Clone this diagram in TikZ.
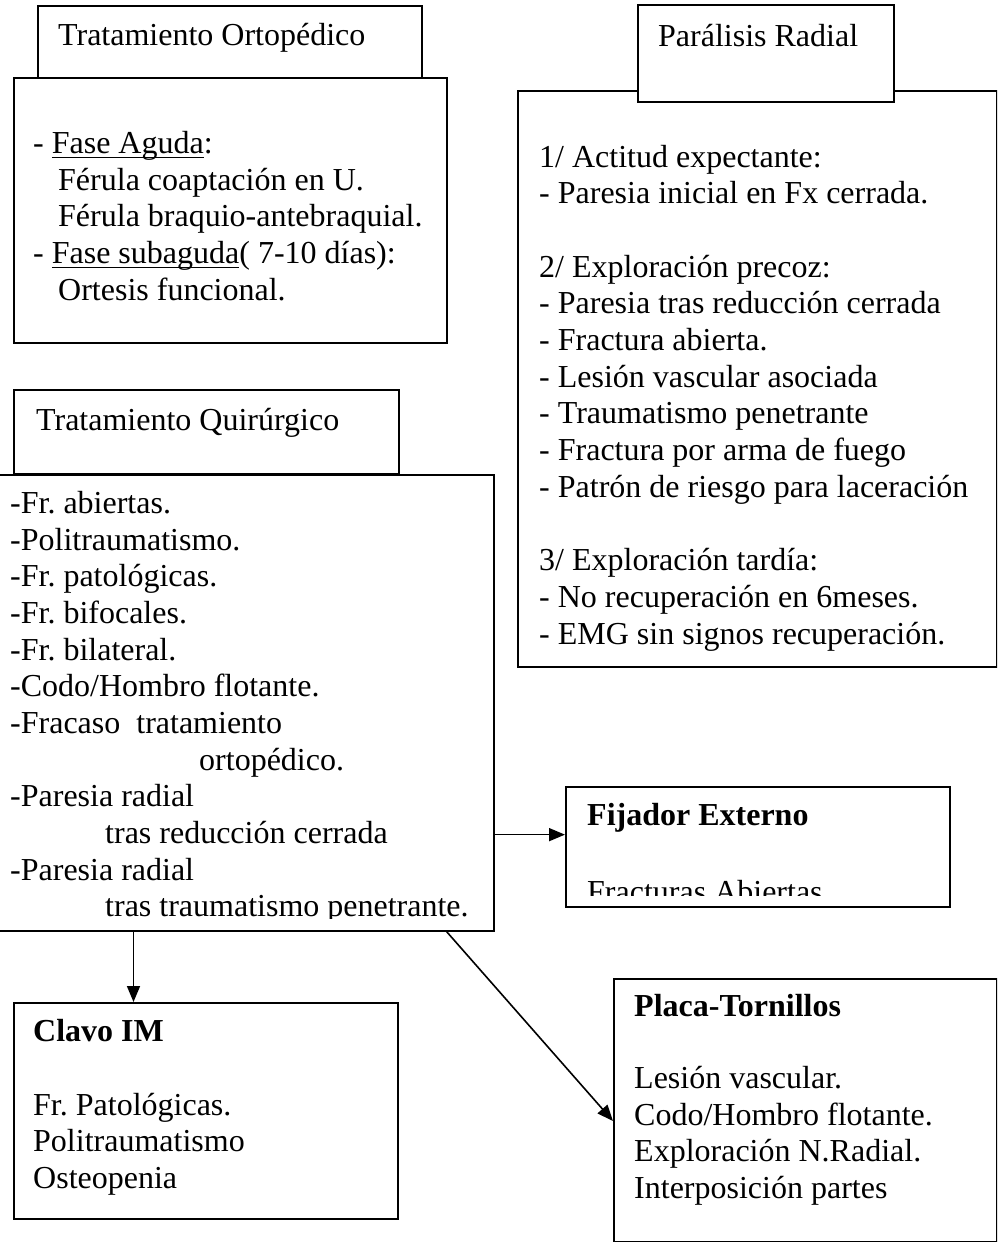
\documentclass[tikz,border=0pt]{standalone}
\usepackage{fontspec}
\setmainfont{Liberation Serif}
\usetikzlibrary{arrows.meta,calc}
% underline drawn just below the baseline, crossing descenders
\newcommand\ulin[1]{\setbox0=\hbox{#1}\rlap{\rule[-5pt]{\wd0}{1.6pt}}\box0}
\frenchspacing

\begin{document}
\begin{tikzpicture}[x=1pt,y=-1pt,
  box/.style={draw=black, line width=1.6pt, fill=white, rectangle, inner sep=0pt, anchor=north west},
  txt/.style={anchor=base west, inner sep=0pt, font=\fontsize{32}{36.7}\selectfont},
  hd/.style={anchor=base west, inner sep=0pt, font=\fontsize{32}{36.7}\selectfont\bfseries},
  arr/.style={line width=1.6pt, -{Triangle[length=16pt,width=13pt]}}]

\useasboundingbox (0,0) rectangle (997,1242);
\clip (0,0) rectangle (997,1242);
\fill[white] (0,0) rectangle (997,1242);

% ---- Tratamiento ortopédico ----
\node[box, minimum width=433pt, minimum height=265pt] (ortB) at (13,77) {};
\node[box, minimum width=384pt, minimum height=72pt] (ortH) at (37,5) {};
\node[txt] (ortT) at (58,45.5) {Tratamiento Ortopédico};
\node[txt] (ort1) at (33,153.3) {- \ulin{Fase Aguda}:};
\node[txt] (ort2) at (58,190) {Férula coaptación en U.};
\node[txt] (ort3) at (58,226.7) {Férula braquio-antebraquial.};
\node[txt] (ort4) at (33,263.3) {- \ulin{Fase subaguda}( 7-10 días):};
\node[txt] (ort5) at (58,300) {Ortesis funcional.};

% ---- Parálisis radial ----
\node[box, minimum width=479pt, minimum height=576pt] (parB) at (517,90) {};
\node[box, minimum width=256pt, minimum height=97pt] (parH) at (637,4) {};
\node[txt] (parT) at (658,46) {Parálisis Radial};
\node[txt] (par1) at (539,167) {1/ Actitud expectante:};
\node[txt] (par2) at (539,203.7) {- Paresia inicial en Fx cerrada.};
\node[txt] (par3) at (539,277.1) {2/ Exploración precoz:};
\node[txt] (par4) at (539,313.8) {- Paresia tras reducción cerrada};
\node[txt] (par5) at (539,350.5) {- Fractura abierta.};
\node[txt] (par6) at (539,387.2) {- Lesión vascular asociada};
\node[txt] (par7) at (539,423.9) {- Traumatismo penetrante};
\node[txt] (par8) at (539,460.6) {- Fractura por arma de fuego};
\node[txt] (par9) at (539,497.3) {- Patrón de riesgo para laceración};
\node[txt] (par10) at (539,570.7) {3/ Exploración tardía:};
\node[txt] (par11) at (539,607.4) {- No recuperación en 6meses.};
\node[txt] (par12) at (539,644.1) {- EMG sin signos recuperación.};

% ---- Tratamiento quirúrgico ----
\node[box, minimum width=385pt, minimum height=84pt] (quiH) at (13,389) {};
\node[box, minimum width=503pt, minimum height=456pt] (quiB) at (-10,474) {};
\node[txt] (quiT) at (36,430.7) {Tratamiento Quirúrgico};
\begin{scope}
  \clip (0,470) rectangle (493,918);
  \node[txt] (qui1) at (10,513.3) {-Fr. abiertas.};
  \node[txt] (qui2) at (10,550) {-Politraumatismo.};
  \node[txt] (qui3) at (10,586.7) {-Fr. patológicas.};
  \node[txt] (qui4) at (10,623.3) {-Fr. bifocales.};
  \node[txt] (qui5) at (10,660) {-Fr. bilateral.};
  \node[txt] (qui6) at (10,696.7) {-Codo/Hombro flotante.};
  \node[txt] (qui7) at (10,733.3) {-Fracaso\ \ tratamiento};
  \node[txt] (qui8) at (199,770) {ortopédico.};
  \node[txt] (qui9) at (10,806.7) {-Paresia radial};
  \node[txt] (qui10) at (105,843.3) {tras reducción cerrada};
  \node[txt] (qui11) at (10,880) {-Paresia radial};
  \node[txt] (qui12) at (105,916.7) {tras traumatismo penetrante.};
\end{scope}

% ---- Fijador externo ----
\node[box, minimum width=384pt, minimum height=120pt] (fij) at (565,786) {};
\node[hd] (fijT) at (587,825.5) {Fijador Externo};
\begin{scope}
  \clip (565,786) rectangle (949,895);
  \node[txt] (fij1) at (587,902) {Fracturas Abiertas};
\end{scope}

% ---- Clavo IM ----
\node[box, minimum width=384pt, minimum height=216pt] (clv) at (13,1002) {};
\node[hd] (clvT) at (33,1041.7) {Clavo IM};
\node[txt] (clv1) at (33,1115) {Fr. Patológicas.};
\node[txt] (clv2) at (33,1151.7) {Politraumatismo};
\node[txt] (clv3) at (33,1188.3) {Osteopenia};

% ---- Placa-tornillos ----
\node[box, minimum width=383pt, minimum height=263pt] (plc) at (613,978) {};
\node[hd] (plcT) at (634,1016.7) {Placa-Tornillos};
\node[txt] (plc1) at (634,1088.3) {Lesión vascular.};
\node[txt] (plc2) at (634,1125) {Codo/Hombro flotante.};
\node[txt] (plc3) at (634,1161.7) {Exploración N.Radial.};
\node[txt] (plc4) at (634,1198.3) {Interposición partes};

% ---- connectors ----
\coordinate (fijIn) at ($(fij.north west)!0.4!(fij.south west)$);
\draw[arr] (quiB.east |- fijIn) -- (fijIn);
\coordinate (clvIn) at ($(clv.north west)!0.3125!(clv.north east)$);
\draw[arr] (clvIn |- quiB.south) -- (clvIn);
\coordinate (diagOut) at ($(quiB.south east)+(-48,0)$);
\coordinate (plcIn) at ($(plc.north west)+(0,143)$);
\draw[arr] (diagOut) -- (plcIn);

\end{tikzpicture}
\end{document}
